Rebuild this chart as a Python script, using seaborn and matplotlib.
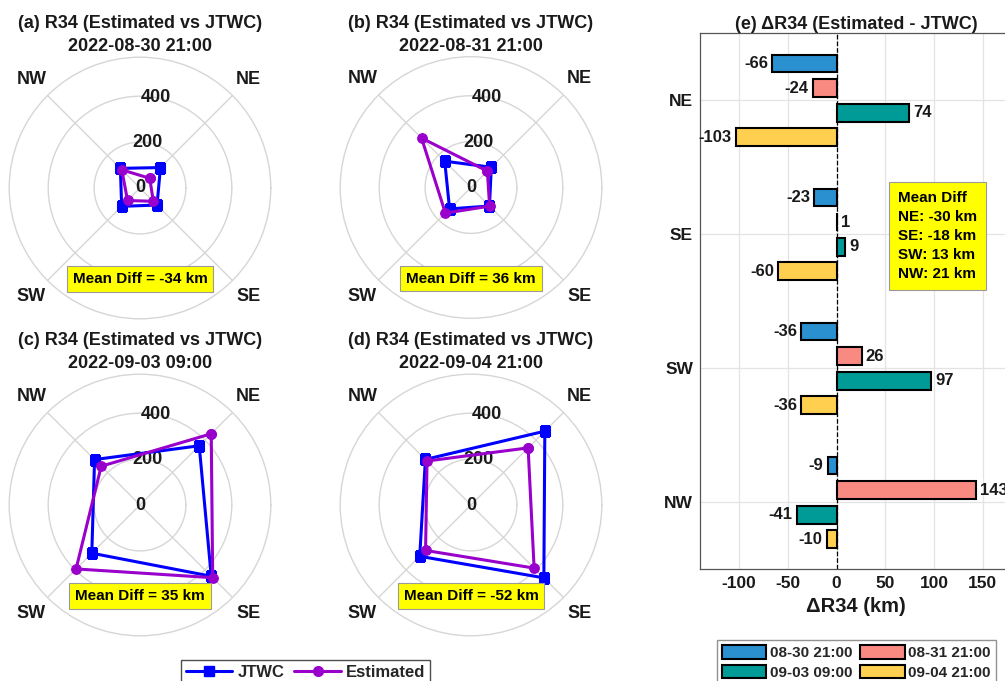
import numpy as np
import pandas as pd
import matplotlib
matplotlib.use("Agg")
import matplotlib.pyplot as plt
import seaborn as sns
from matplotlib.lines import Line2D
from matplotlib.patches import Patch

# ---------------- data ----------------
directions = ["NE", "SE", "SW", "NW"]
direction_angles_deg = [45, 315, 225, 135]
panel_letters = ["a", "b", "c", "d"]
times_full = ["2022-08-30 21:00", "2022-08-31 21:00", "2022-09-03 09:00", "2022-09-04 21:00"]
times_short = ["08-30 21:00", "08-31 21:00", "09-03 09:00", "09-04 21:00"]

# R34 (km) per direction NE, SE, SW, NW
jtwc_0830 = [126, 105, 113, 121]
est_0830 = [60, 82, 77, 112]
jtwc_0831 = [125, 114, 132, 162]
est_0831 = [100.8, 114.8, 157.8, 304.6]
jtwc_0903 = [365, 439, 297, 280]
est_0903 = [439, 448, 394, 239]
jtwc_0904 = [455, 449, 316, 281]
est_0904 = [352, 389, 280, 271]

jtwc_all = [jtwc_0830, jtwc_0831, jtwc_0903, jtwc_0904]
est_all = [est_0830, est_0831, est_0903, est_0904]

r_ticks = [0, 200, 400]
r_max = 570
bar_colors = ["#2b90d0", "#f98a82", "#009a97", "#ffd050"]
c_jtwc = "#0000ff"
c_est = "#9900cc"

# ---------------- style ----------------
sns.set_style("white")
plt.rcParams["font.family"] = ["Liberation Sans", "DejaVu Sans"]
plt.rcParams["font.weight"] = "bold"
plt.rcParams["axes.titleweight"] = "bold"
plt.rcParams["axes.labelweight"] = "bold"
plt.rcParams["axes.unicode_minus"] = False

fig = plt.figure(figsize=(10.05, 6.81), dpi=100)
W, H = 1005, 681
R = 130.8
centers = [(140, 188), (471, 187.5), (140, 505), (471, 505)]
txt_col = "#1a1a1a"

theta = np.deg2rad(direction_angles_deg)
for i in range(4):
    cx, cy = centers[i]
    rect = [(cx - R) / W, (H - cy - R) / H, 2 * R / W, 2 * R / H]
    ax = fig.add_axes(rect, projection="polar")
    ax.set_theta_zero_location("E")
    ax.set_theta_direction(1)
    th = np.append(theta, theta[0])
    rj = np.append(jtwc_all[i], jtwc_all[i][0])
    re = np.append(est_all[i], est_all[i][0])
    sns.lineplot(x=th, y=rj, ax=ax, sort=False, estimator=None, color=c_jtwc,
                 lw=2.2, marker="s", markersize=6.5, markeredgecolor=c_jtwc, zorder=4)
    sns.lineplot(x=th, y=re, ax=ax, sort=False, estimator=None, color=c_est,
                 lw=2.2, marker="o", markersize=7, markeredgecolor=c_est, zorder=5)
    ax.set_xlabel("")
    ax.set_ylabel("")
    ax.set_thetagrids([45, 135, 225, 315], ["NE", "NW", "SW", "SE"],
                      fontsize=13, fontweight="bold", color=txt_col)
    ax.tick_params(axis="x", pad=6)
    ax.set_rlim(0, r_max)
    ax.set_yticks(r_ticks)
    ax.set_yticklabels([])
    ax.grid(True, color="#d6d6d6", lw=1.0)
    ax.spines["polar"].set_color("#d6d6d6")
    ax.spines["polar"].set_linewidth(1.0)
    for rv in r_ticks:
        ax.text(np.deg2rad(80), rv, str(rv), ha="center", va="center",
                fontsize=13, fontweight="bold", color=txt_col, zorder=2)
    ax.text(0.5, 1.127, f"({panel_letters[i]}) R34 (Estimated vs JTWC)",
            transform=ax.transAxes, ha="center", va="center", fontsize=13,
            fontweight="bold", color=txt_col)
    ax.text(0.5, 1.039, times_full[i], transform=ax.transAxes, ha="center",
            va="center", fontsize=13, fontweight="bold", color=txt_col)
    mean_diff = np.mean(np.array(est_all[i]) - np.array(jtwc_all[i]))
    ax.text(0.5, 0.152, f"Mean Diff = {mean_diff:.0f} km", transform=ax.transAxes,
            ha="center", va="center", fontsize=11, fontweight="bold", zorder=10,
            color="black",
            bbox=dict(boxstyle="square,pad=0.38", facecolor="#ffff00",
                      edgecolor="#9a9a9a", lw=0.8))

leg_handles = [
    Line2D([], [], color=c_jtwc, lw=2.2, marker="s", markersize=6.5),
    Line2D([], [], color=c_est, lw=2.2, marker="o", markersize=7),
]
fig.legend(leg_handles, ["JTWC", "Estimated"], loc="upper center",
           bbox_to_anchor=(305.5 / W, 1 - 660 / H), ncol=2,
           prop={"weight": "bold", "size": 12}, frameon=True, fancybox=False,
           edgecolor="#222222", handlelength=2.8, handletextpad=0.3,
           columnspacing=0.6, borderpad=0.3, borderaxespad=0)

# ---------------- bar chart ----------------
rows = []
for t, j, e in zip(times_short, jtwc_all, est_all):
    for d, jv, ev in zip(directions, j, e):
        rows.append({"dir": d, "time": t, "diff": ev - jv})
df = pd.DataFrame(rows)

axb = fig.add_axes([700 / W, (H - 569.3) / H, 312 / W, 536 / H])
sns.barplot(data=df, y="dir", x="diff", hue="time", order=directions,
            hue_order=times_short, palette=bar_colors, saturation=1, orient="h",
            width=0.733, gap=0.27, edgecolor="black", linewidth=1.5,
            errorbar=None, legend=False, ax=axb, zorder=3)
for cont in axb.containers:
    axb.bar_label(cont, fmt="%.0f", padding=3, fontsize=12, fontweight="bold",
                  color=txt_col)
axb.axvline(0, color="black", ls="--", lw=0.9, zorder=2)
axb.set_xlim(-140, 180)
axb.set_ylim(3.5, -0.5)
axb.set_xticks([-100, -50, 0, 50, 100, 150])
axb.tick_params(axis="both", labelsize=12.5, direction="in", length=4,
                color="#555555", pad=5, labelcolor=txt_col)
for lab in axb.get_xticklabels() + axb.get_yticklabels():
    lab.set_fontweight("bold")
axb.grid(True, color="#e3e3e3", lw=0.9)
axb.set_axisbelow(True)
for sp in axb.spines.values():
    sp.set_color("#555555")
    sp.set_linewidth(0.9)
axb.set_ylabel("")
axb.set_xlabel("ΔR34 (km)", fontsize=14.5, fontweight="bold", labelpad=4,
               color=txt_col)
axb.set_title("(e) ΔR34 (Estimated - JTWC)", fontsize=13, fontweight="bold",
              pad=3, color=txt_col)

dir_means = df.groupby("dir")["diff"].mean()
box_lines = ["Mean Diff"] + [f"{d}: {dir_means[d]:.0f} km" for d in directions]
axb.text(0.634, 0.706, "\n".join(box_lines), transform=axb.transAxes, ha="left",
         va="top", fontsize=11, fontweight="bold", linespacing=1.45, zorder=10,
         color="black",
         bbox=dict(boxstyle="square,pad=0.6", facecolor="#ffff00",
                   edgecolor="#9a9a9a", lw=0.8))

bar_handles = [Patch(facecolor=c, edgecolor="black", lw=1.5) for c in bar_colors]
order = [0, 2, 1, 3]
fig.legend([bar_handles[k] for k in order], [times_short[k] for k in order],
           loc="upper center", bbox_to_anchor=(856.5 / W, 1 - 640 / H), ncol=2,
           prop={"weight": "bold", "size": 11}, frameon=True, fancybox=False,
           edgecolor="#777777", handlelength=2.9, handleheight=0.95,
           handletextpad=0.25, columnspacing=0.5, labelspacing=0.3,
           borderpad=0.35, borderaxespad=0)

fig.savefig("out.png", dpi=100)
